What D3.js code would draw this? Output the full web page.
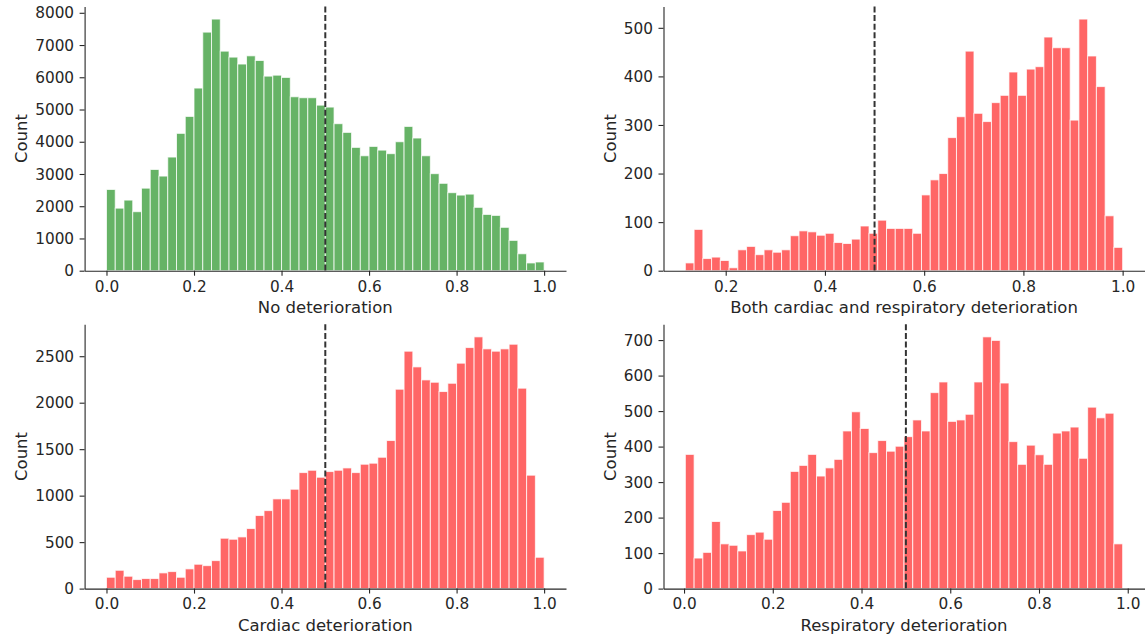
<!DOCTYPE html>
<html>
<head>
<meta charset="utf-8">
<script src="https://cdn.jsdelivr.net/npm/d3@7"></script>
<style>
  html, body { margin: 0; padding: 0; background: #ffffff; }
  svg { display: block; }
  text { font-family: "DejaVu Sans", sans-serif; fill: #262626; }
</style>
</head>
<body>
<svg id="chart" width="1146" height="640"></svg>
<script>
// ---- Data (bin counts, 50 bins each) ----
const noDeterioration = [2520,1940,2190,1830,2560,3140,2935,3525,4260,4785,5665,7400,7805,6810,6625,6410,6665,6520,6035,6065,5995,5395,5365,5365,5135,5075,4560,4290,3825,3565,3855,3740,3630,4000,4475,4115,3565,3010,2710,2420,2345,2375,1965,1745,1715,1345,940,525,240,270];
const bothDeterioration = [16,85,25,28,21,6,43,50,33,43,38,43,72,82,80,73,77,58,56,65,92,77,104,87,87,87,77,156,187,200,274,317,452,324,307,346,361,409,361,415,420,481,459,459,310,518,442,379,113,48];
const cardiacDeterioration = [122,197,133,97,108,108,169,183,122,212,262,247,301,542,531,556,646,786,839,965,965,1069,1248,1273,1198,1259,1273,1298,1248,1338,1349,1413,1593,2145,2554,2385,2245,2220,2120,2209,2425,2593,2708,2579,2554,2579,2629,2156,1220,337];
const respiratoryDeterioration = [378,86,102,189,126,122,106,152,159,139,220,243,330,347,378,317,340,364,444,498,451,383,417,387,401,428,475,444,552,582,471,475,491,582,709,699,579,414,350,404,377,350,438,444,455,367,511,481,494,126];

// bin ranges (data min/max of each histogram)
const binRange1 = [0.0, 1.0];
const binRange2 = [0.1187, 1.0];
const binRange3 = [0.0, 1.0];
const binRange4 = [0.003, 0.9885];

const xLabels = ["No deterioration", "Both cardiac and respiratory deterioration", "Cardiac deterioration", "Respiratory deterioration"];
const yLabel = "Count";

const xTicks1 = [0.0, 0.2, 0.4, 0.6, 0.8, 1.0];
const xTicks2 = [0.2, 0.4, 0.6, 0.8, 1.0];
const xTicks3 = [0.0, 0.2, 0.4, 0.6, 0.8, 1.0];
const xTicks4 = [0.0, 0.2, 0.4, 0.6, 0.8, 1.0];
const yTicks1 = [0,1000,2000,3000,4000,5000,6000,7000,8000];
const yTicks2 = [0,100,200,300,400,500];
const yTicks3 = [0,500,1000,1500,2000,2500];
const yTicks4 = [0,100,200,300,400,500,600,700];

const threshold = 0.5;

// ---- Layout ----
const colX = [[84.6, 566], [663.5, 1144.5]];
const rowY = [[6.5, 270.7], [324.3, 588.6]];
const GREEN = "#66b366", RED = "#ff6666";

const panels = [
  {counts: noDeterioration, range: binRange1, xticks: xTicks1, yticks: yTicks1, color: GREEN, label: xLabels[0], col: 0, row: 0},
  {counts: bothDeterioration, range: binRange2, xticks: xTicks2, yticks: yTicks2, color: RED, label: xLabels[1], col: 1, row: 0},
  {counts: cardiacDeterioration, range: binRange3, xticks: xTicks3, yticks: yTicks3, color: RED, label: xLabels[2], col: 0, row: 1},
  {counts: respiratoryDeterioration, range: binRange4, xticks: xTicks4, yticks: yTicks4, color: RED, label: xLabels[3], col: 1, row: 1}
];

const svg = d3.select("#chart");

panels.forEach(p => {
  const [x0, x1] = colX[p.col];
  const [y0, y1] = rowY[p.row];
  const [lo, hi] = p.range;
  const span = hi - lo;
  const n = p.counts.length;
  const bw = span / n;
  const bins = p.counts.map((c, i) => ({x0: lo + i * bw, x1: lo + (i + 1) * bw, c}));

  const x = d3.scaleLinear().domain([lo - 0.05 * span, hi + 0.05 * span]).range([x0, x1]);
  const y = d3.scaleLinear().domain([0, d3.max(p.counts) * 1.05]).range([y1, y0]);

  const g = svg.append("g");

  g.selectAll("rect.bar").data(bins).enter().append("rect")
    .attr("class", "bar")
    .attr("x", d => x(d.x0))
    .attr("width", d => x(d.x1) - x(d.x0))
    .attr("y", d => y(d.c))
    .attr("height", d => y(0) - y(d.c))
    .attr("fill", p.color)
    .attr("stroke", "rgba(255,255,255,0.75)")
    .attr("stroke-width", 1);

  // threshold line
  g.append("line")
    .attr("x1", x(threshold)).attr("x2", x(threshold))
    .attr("y1", y0).attr("y2", y1)
    .attr("stroke", "#333333")
    .attr("stroke-width", 2)
    .attr("stroke-dasharray", "6,2.6");

  // axes
  const xAxis = d3.axisBottom(x).tickValues(p.xticks).tickFormat(d3.format(".1f"))
    .tickSize(5).tickSizeOuter(0).tickPadding(5);
  const yAxis = d3.axisLeft(y).tickValues(p.yticks).tickFormat(d3.format("d"))
    .tickSize(5).tickSizeOuter(0).tickPadding(5.5);

  const gx = g.append("g").attr("transform", `translate(0,${y1})`).call(xAxis);
  const gy = g.append("g").attr("transform", `translate(${x0},0)`).call(yAxis);
  [gx, gy].forEach(a => {
    a.select(".domain").attr("stroke", "#262626").attr("stroke-width", 1.1);
    a.selectAll(".tick line").attr("stroke", "#262626").attr("stroke-width", 1.1);
    a.selectAll(".tick text").attr("font-size", 15.3).attr("font-family", "DejaVu Sans").attr("fill", "#262626");
  });
  gy.selectAll(".tick text").attr("dy", "0.34em");

  // x label
  g.append("text")
    .attr("x", (x0 + x1) / 2)
    .attr("y", y1 + 42.7)
    .attr("text-anchor", "middle")
    .attr("font-size", 16.5)
    .text(p.label);

  // y label, placed left of widest tick label
  let maxW = 0;
  gy.selectAll(".tick text").each(function() { maxW = Math.max(maxW, this.getBBox().width); });
  const cx = x0 - 10.5 - maxW - 14;
  g.append("text")
    .attr("transform", `translate(${cx},${(y0 + y1) / 2}) rotate(-90)`)
    .attr("text-anchor", "middle")
    .attr("dy", "0.35em")
    .attr("font-size", 16.5)
    .text(yLabel);
});
</script>
</body>
</html>
